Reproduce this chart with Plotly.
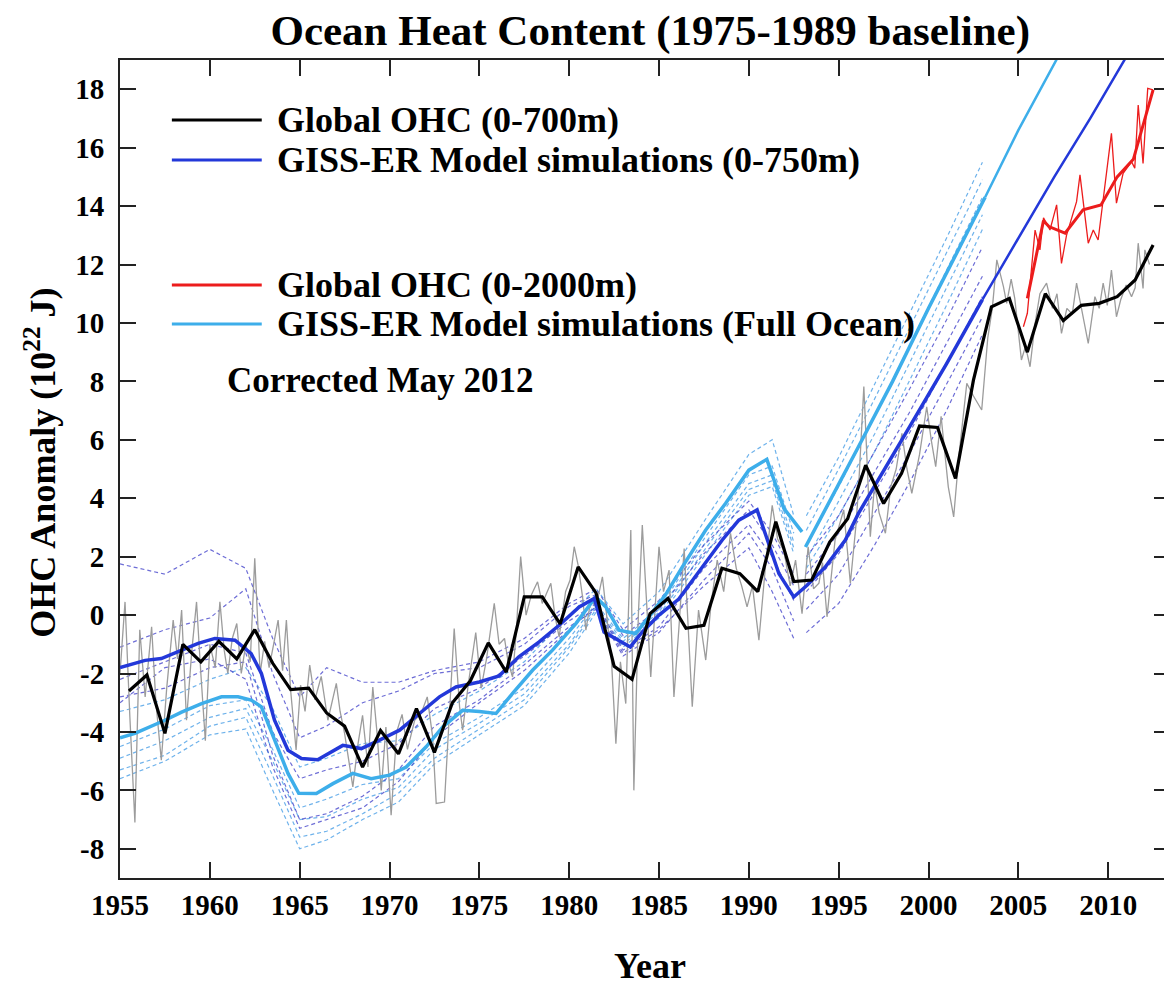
import plotly.graph_objects as go

# ---------------- data ----------------
# Global OHC 0-700m, annual means (plotted at mid-year)
OBS_YEARS = [y + 0.5 for y in range(1955, 2013)]
OBS_700 = [-2.6, -2.05, -4.05, -1.0, -1.6, -0.9, -1.5, -0.5, -1.65, -2.55,
           -2.5, -3.35, -3.8, -5.2, -3.95, -4.75, -3.2, -4.7, -3.0, -2.25,
           -0.95, -1.95, 0.62, 0.62, -0.3, 1.65, 0.75, -1.75, -2.2, 0.05,
           0.57, -0.45, -0.35, 1.6, 1.42, 0.8, 3.2, 1.15, 1.2, 2.5,
           3.3, 5.13, 3.82, 4.85, 6.47, 6.42, 4.68, 8.04, 10.55, 10.84,
           9.0, 11.0, 10.08, 10.6, 10.67, 10.9, 11.47, 12.67]

# Global OHC 0-700m, 3-month values (thin grey)
GREY_X = [1955.0, 1955.28, 1955.55, 1955.83, 1956.1, 1956.4, 1956.76, 1957.0, 1957.3, 1957.6,
          1957.96, 1958.2, 1958.43, 1958.7, 1959.0, 1959.26, 1959.5, 1959.75, 1960.0, 1960.3,
          1960.56, 1960.8, 1961.0, 1961.25, 1961.5, 1961.75, 1962.0, 1962.25, 1962.5, 1962.8,
          1963.05, 1963.3, 1963.55, 1963.8, 1964.05, 1964.26, 1964.5, 1964.8, 1965.05, 1965.3,
          1965.56, 1965.85, 1966.2, 1966.57, 1967.04, 1967.25, 1967.5, 1967.96, 1968.25, 1968.5,
          1968.8, 1969.07, 1969.3, 1969.54, 1969.8, 1970.09, 1970.4, 1970.7, 1971.0, 1971.4,
          1971.76, 1972.1, 1972.4, 1972.6, 1973.06, 1973.35, 1973.6, 1973.9, 1974.07, 1974.4,
          1974.8, 1975.1, 1975.4, 1975.83, 1976.1, 1976.4, 1976.6, 1976.85, 1977.05, 1977.3,
          1977.6, 1977.9, 1978.24, 1978.5, 1978.98, 1979.2, 1979.44, 1979.8, 1980.05, 1980.28,
          1980.5, 1980.75, 1980.93, 1981.2, 1981.5, 1981.85, 1982.1, 1982.35, 1982.6, 1982.85,
          1983.15, 1983.43, 1983.6, 1983.85, 1984.07, 1984.3, 1984.54, 1985.0, 1985.25, 1985.56,
          1985.83, 1986.1, 1986.4, 1986.85, 1987.2, 1987.6, 1987.9, 1988.24, 1988.6, 1988.98,
          1989.3, 1989.6, 1989.9, 1990.2, 1990.56, 1990.9, 1991.3, 1991.6, 1991.95, 1992.3,
          1992.6, 1992.96, 1993.3, 1993.6, 1993.9, 1994.1, 1994.35, 1994.8, 1995.28, 1995.65,
          1995.95, 1996.1, 1996.4, 1996.76, 1997.0, 1997.25, 1997.6, 1997.9, 1998.2, 1998.52,
          1998.8, 1999.07, 1999.5, 1999.9, 2000.15, 2000.4, 2000.7, 2001.1, 2001.4, 2001.7,
          2002.13, 2002.5, 2002.96, 2003.3, 2003.55, 2003.8, 2004.17, 2004.35, 2004.6, 2004.8,
          2005.17, 2005.4, 2005.65, 2005.93, 2006.2, 2006.57, 2006.9, 2007.15, 2007.4, 2007.7,
          2008.0, 2008.24, 2008.55, 2008.89, 2009.26, 2009.5, 2009.72, 2009.95, 2010.18, 2010.46,
          2010.7, 2011.0, 2011.3, 2011.5, 2011.67, 2011.94, 2012.04, 2012.3]
GREY_Y = [-2.0, 0.45, -3.5, -7.1, -0.5, -2.8, -0.4, -3.0, -4.97, -2.5,
          -0.17, -1.5, 0.17, -3.6, -1.2, 0.45, -2.0, -4.3, -1.0, -1.8,
          0.45, -1.2, -2.0, -0.8, -0.29, -2.0, -1.0, -1.6, 1.94, -2.0,
          -0.9, -1.8, -1.0, -0.17, -1.9, -0.17, -2.6, -4.62, -2.4, -3.3,
          -1.71, -2.9, -2.1, -3.6, -2.34, -3.3, -4.05, -5.88, -4.4, -3.43,
          -5.2, -2.46, -4.0, -6.0, -3.83, -6.85, -4.0, -3.4, -4.6, -3.6,
          -3.37, -2.8, -4.17, -6.45, -6.4, -3.0, -0.46, -3.14, -3.94, -2.3,
          -0.6, -2.5, -1.5, 0.4, -1.0, -0.8, -1.6, -2.12, -0.6, 2.0,
          0.0, 0.7, 1.14, 0.4, 1.09, 0.0, -0.75, 0.8, 1.2, 2.34,
          1.7, 0.6, -0.52, 0.5, 0.3, 1.31, -0.2, -1.5, -4.4, -1.6,
          -3.03, 2.91, -6.0, 0.0, 3.08, 0.5, -2.12, 2.34, 0.8, 1.54,
          -2.8, -0.5, 2.28, -3.14, 0.17, -1.54, 0.4, 1.88, 0.8, 2.8,
          1.6, 1.0, 0.28, 1.0, -0.86, 1.5, 3.76, 2.6, 2.2, 1.0,
          1.88, 0.05, 2.34, 0.9, 1.09, 1.8, -0.06, 2.57, 3.6, 1.09,
          3.0, 4.28, 7.82, 2.68, 4.5, 3.5, 2.8, 4.4, 5.0, 6.22,
          5.0, 4.17, 5.5, 7.13, 6.0, 5.08, 6.8, 4.39, 3.36, 5.5,
          7.93, 7.5, 7.02, 9.5, 10.5, 12.16, 11.24, 10.67, 11.5, 10.84,
          8.73, 9.2, 8.5, 9.98, 11.0, 11.36, 10.5, 11.0, 9.64, 10.5,
          10.3, 11.36, 10.4, 9.3, 10.9, 10.5, 11.36, 10.6, 11.81, 10.21,
          10.8, 11.3, 10.9, 11.2, 12.73, 11.18, 12.5, 12.0]

# Global OHC 0-2000m
RED_X = [2005.5, 2006.4, 2006.7, 2007.6, 2008.6, 2009.6, 2010.5, 2011.4, 2012.5]
RED_Y = [10.84, 13.5, 13.3, 13.07, 13.87, 14.04, 15.0, 15.6, 17.98]
RED_THIN_X = [2005.28, 2005.5, 2005.93, 2006.2, 2006.4, 2006.76, 2007.13, 2007.4, 2007.68, 2008.24,
              2008.43, 2008.89, 2009.17, 2009.44, 2010.18, 2010.46, 2010.83, 2011.3, 2011.48, 2011.67,
              2011.94, 2012.2, 2012.5]
RED_THIN_Y = [9.87, 10.33, 13.18, 12.5, 13.6, 13.18, 14.04, 12.04, 13.0, 14.15,
              15.07, 12.73, 13.18, 12.84, 16.49, 14.1, 15.12, 15.52, 15.3, 17.46,
              15.46, 18.03, 17.98]

# GISS-ER ensemble mean, 0-750m
MOD750_X = [1955.0, 1955.5, 1956.4, 1957.3, 1958.24, 1959.35, 1960.28, 1961.4, 1962.3, 1962.87,
            1963.6, 1964.35, 1965.1, 1966.0, 1967.4, 1968.43, 1969.44, 1970.56, 1971.67, 1972.78,
            1973.7, 1975.0, 1976.1, 1977.2, 1978.33, 1979.44, 1980.56, 1981.4, 1981.94, 1982.7,
            1983.4, 1984.07, 1985.0, 1986.1, 1987.4, 1988.52, 1989.44, 1990.46, 1991.1, 1991.67,
            1992.5, 1993.24, 1994.26, 1995.37, 1996.1, 1997.0, 1999.0, 2001.0, 2003.0]
MOD750_Y = [-1.8, -1.72, -1.55, -1.49, -1.26, -0.97, -0.8, -0.86, -1.32, -2.0,
            -3.6, -4.63, -4.91, -4.95, -4.46, -4.57, -4.28, -3.94, -3.37, -2.8,
            -2.46, -2.29, -2.08, -1.43, -0.92, -0.35, 0.28, 0.57, -0.58, -0.86,
            -1.09, -0.58, 0.0, 0.55, 1.65, 2.57, 3.25, 3.6, 2.45, 1.42,
            0.62, 1.02, 1.65, 2.57, 3.48, 4.4, 6.5, 8.6, 10.8]
MOD750_EXT_X = [2003.0, 2005.0, 2007.0, 2009.0, 2011.0]
MOD750_EXT_Y = [10.8, 12.9, 15.0, 17.0, 19.1]

# GISS-ER ensemble mean, full ocean
MODFULL_X = [1955.0, 1955.83, 1957.5, 1958.43, 1959.54, 1960.65, 1961.57, 1962.3, 1962.87, 1963.6,
             1964.35, 1964.95, 1965.93, 1966.85, 1967.96, 1968.98, 1970.0, 1970.93, 1972.04, 1972.96,
             1974.07, 1975.0, 1975.93, 1976.85, 1977.96, 1979.07, 1980.37, 1981.48, 1982.04, 1982.78,
             1983.7, 1984.44, 1985.37, 1986.3, 1987.6, 1988.7, 1990.0, 1991.0, 1991.95, 1992.96]
MODFULL_Y = [-4.2, -4.05, -3.6, -3.32, -3.03, -2.8, -2.8, -2.91, -3.14, -4.28,
             -5.42, -6.1, -6.11, -5.77, -5.42, -5.6, -5.48, -5.2, -4.51, -3.83,
             -3.26, -3.3, -3.37, -2.68, -1.89, -1.2, -0.29, 0.62, 0.28, -0.52,
             -0.63, -0.06, 0.7, 1.65, 2.91, 3.82, 4.96, 5.33, 3.65, 2.85]
MODFULL_PROJ_X = [1993.15, 1994.0, 1995.0, 1996.1, 1998.0, 2000.0, 2003.15]
MODFULL_PROJ_Y = [2.33, 3.3, 4.5, 5.76, 8.0, 10.5, 14.3]
MODFULL_EXT_X = [2003.15, 2005.0, 2007.2]
MODFULL_EXT_Y = [14.3, 16.6, 19.1]

# individual ensemble members (thin dashed), historical period
ENS_X = [1955, 1957.5, 1960, 1962, 1963.5, 1965, 1966.5, 1968.5, 1970.5, 1972.5,
         1975, 1977.5, 1980, 1981.5, 1983, 1985, 1987.5, 1990, 1991.3, 1992.5]
ENS750 = [
    [1.75, 1.4, 2.25, 1.6, -0.8, -2.8, -1.8, -2.3, -2.3, -1.9, -1.6, -0.8, 0.4, 0.9, -0.5, 0.5, 2.4, 3.9, 2.8, 1.4],
    [-1.1, -0.5, -0.1, 0.9, -2.0, -4.2, -3.8, -3.0, -2.6, -2.0, -1.8, -1.0, 0.3, 0.7, -0.7, 0.2, 2.1, 3.6, 2.4, 1.0],
    [-2.2, -1.6, -1.0, -1.3, -4.0, -5.6, -5.3, -5.0, -4.4, -3.2, -2.5, -1.4, -0.2, 0.4, -1.2, -0.4, 1.6, 3.1, 2.0, 0.5],
    [-2.8, -2.5, -1.8, -1.6, -4.8, -7.0, -6.8, -6.2, -5.3, -3.8, -2.9, -1.7, -0.4, 0.2, -1.4, -0.6, 1.2, 2.8, 1.6, -0.2],
    [-3.0, -1.8, -1.5, -2.2, -5.2, -7.3, -7.0, -6.6, -5.7, -4.2, -3.0, -1.9, -0.5, 0.3, -1.3, -0.5, 1.0, 2.3, 0.8, -0.8],
]
ENSFULL = [
    [-3.3, -2.9, -2.2, -1.8, -3.2, -5.2, -4.9, -4.4, -4.3, -3.4, -2.6, -1.6, 0.0, 0.9, -0.3, 0.8, 3.2, 5.5, 6.0, 3.4],
    [-4.5, -3.9, -3.1, -2.9, -4.6, -6.6, -6.3, -5.8, -5.6, -4.4, -3.5, -2.5, -0.8, 0.4, -0.8, 0.2, 2.6, 4.8, 5.1, 2.8],
    [-4.9, -4.3, -3.5, -3.2, -5.0, -7.0, -6.9, -6.3, -5.9, -4.6, -3.7, -2.7, -1.0, 0.3, -0.9, 0.1, 2.4, 4.5, 4.8, 2.5],
    [-5.3, -4.8, -3.8, -3.5, -5.5, -7.6, -7.4, -6.8, -6.1, -4.9, -3.9, -2.9, -1.1, 0.2, -1.0, 0.0, 2.2, 4.3, 4.6, 2.3],
    [-5.6, -5.0, -4.1, -3.9, -6.0, -8.0, -7.7, -7.0, -6.4, -5.1, -4.1, -3.1, -1.3, 0.1, -1.1, -0.1, 2.0, 4.1, 4.4, 2.1],
]
# ensemble members, 1993-2003 runs
PROJ_X = [1993.2, 1995, 1997, 1999, 2001, 2003]
PROJ750 = [
    [2.0, 3.4, 5.6, 7.8, 10.1, 12.6],
    [1.4, 2.8, 4.9, 7.0, 9.3, 11.6],
    [0.8, 2.1, 4.2, 6.3, 8.6, 10.9],
    [0.2, 1.4, 3.5, 5.6, 7.9, 10.2],
    [-0.6, 0.4, 2.4, 4.6, 7.0, 9.6],
]
PROJFULL = [
    [3.4, 5.4, 7.9, 10.4, 12.9, 15.5],
    [2.9, 5.0, 7.4, 9.9, 12.4, 14.9],
    [2.4, 4.4, 6.8, 9.3, 11.8, 14.3],
    [1.9, 3.9, 6.2, 8.7, 11.2, 13.7],
    [1.6, 3.4, 5.6, 8.1, 10.6, 13.2],
]

X_TICKS = [1955, 1960, 1965, 1970, 1975, 1980, 1985, 1990, 1995, 2000, 2005, 2010]
Y_TICKS = [-8, -6, -4, -2, 0, 2, 4, 6, 8, 10, 12, 14, 16, 18]
Y_TICK_TEXT = [str(v) for v in Y_TICKS]

LEGEND_LABELS = ["Global OHC (0-700m)", "GISS-ER Model simulations (0-750m)",
                 "Global OHC (0-2000m)", "GISS-ER Model simulations (Full Ocean)"]

# ---------------- styling ----------------
BLACK = "#000000"
DARK_BLUE = "#2338d9"
LIGHT_BLUE = "#3daeea"
RED = "#ec1c1c"
GREY = "#9c9c9c"
DASH_DARK = "rgba(60,60,200,0.75)"
DASH_LIGHT = "rgba(85,165,232,0.85)"
FONT = "Liberation Serif"

fig = go.Figure()


def line(x, y, color, width, dash=None):
    fig.add_trace(go.Scatter(x=x, y=y, mode="lines", showlegend=False, hoverinfo="skip",
                             line=dict(color=color, width=width, dash=dash)))


for m in ENSFULL:
    line(ENS_X, m, DASH_LIGHT, 1.2, "4px,3px")
for m in PROJFULL:
    line(PROJ_X, m, DASH_LIGHT, 1.2, "4px,3px")
for m in ENS750:
    line(ENS_X, m, DASH_DARK, 1.2, "4px,3px")
for m in PROJ750:
    line(PROJ_X, m, DASH_DARK, 1.2, "4px,3px")

line(GREY_X, GREY_Y, GREY, 1.3)
line(MODFULL_X, MODFULL_Y, LIGHT_BLUE, 3.5)
line(MODFULL_PROJ_X, MODFULL_PROJ_Y, LIGHT_BLUE, 3.5)
line(MODFULL_EXT_X, MODFULL_EXT_Y, LIGHT_BLUE, 2.5)
line(MOD750_X, MOD750_Y, DARK_BLUE, 3.5)
line(MOD750_EXT_X, MOD750_EXT_Y, DARK_BLUE, 2.5)
line(OBS_YEARS, OBS_700, BLACK, 3.2)
line(RED_THIN_X, RED_THIN_Y, RED, 1.3)
line(RED_X, RED_Y, RED, 3.0)

# ---------------- legend (drawn manually, two groups) ----------------
leg_colors = [BLACK, DARK_BLUE, RED, LIGHT_BLUE]
leg_y = [0.9267, 0.8778, 0.7249, 0.6773]
shapes = []
annotations = []
for lab, col, yy in zip(LEGEND_LABELS, leg_colors, leg_y):
    shapes.append(dict(type="line", xref="paper", yref="paper", x0=0.0494, x1=0.135,
                       y0=yy, y1=yy, line=dict(color=col, width=3)))
    annotations.append(dict(text=lab, xref="paper", yref="paper", x=0.1473, y=yy,
                            xanchor="left", yanchor="middle", showarrow=False,
                            font=dict(family=FONT, size=36, color="black", weight="bold")))

annotations.append(dict(text="Corrected May 2012", xref="paper", yref="paper", x=0.0998, y=0.6088,
                        xanchor="left", yanchor="middle", showarrow=False,
                        font=dict(family=FONT, size=35, color="black", weight="bold")))
annotations.append(dict(text="OHC Anomaly (10<sup>22</sup> J)", xref="paper", yref="paper",
                        x=-0.076, y=0.508, xanchor="center", yanchor="middle", textangle=-90,
                        showarrow=False,
                        font=dict(family=FONT, size=36, color="black", weight="bold")))
annotations.append(dict(text="Year", xref="paper", yref="paper", x=0.505, y=-0.1076,
                        xanchor="center", yanchor="middle", showarrow=False,
                        font=dict(family=FONT, size=36, color="black", weight="bold")))

axis_common = dict(showgrid=False, zeroline=False, showline=True, linecolor="#222", linewidth=2,
                   mirror="allticks", ticks="inside", ticklen=16, tickwidth=2, tickcolor="#222",
                   tickfont=dict(family=FONT, size=29, color="black", weight="bold"))

# The page body has an 8px default margin, so the figure is sized to the visible window.
fig.update_layout(
    width=1164, height=980,
    margin=dict(l=112, r=0, t=52, b=110),
    paper_bgcolor="white", plot_bgcolor="white",
    font=dict(family=FONT, color="black", weight="bold"),
    title=dict(text="Ocean Heat Content (1975-1989 baseline)", x=0.505, xref="paper",
               y=0.9776, yref="container", xanchor="center", yanchor="middle",
               font=dict(family=FONT, size=43, color="black", weight="bold")),
    xaxis=dict(range=[1955, 2013.44], tickvals=X_TICKS, ticktext=[str(v) for v in X_TICKS],
               **axis_common),
    yaxis=dict(range=[-9, 19], tickvals=Y_TICKS, ticktext=Y_TICK_TEXT, ticklabelstandoff=8,
               **axis_common),
    shapes=shapes,
    annotations=annotations,
    showlegend=False,
)

fig.write_html("out.html")
